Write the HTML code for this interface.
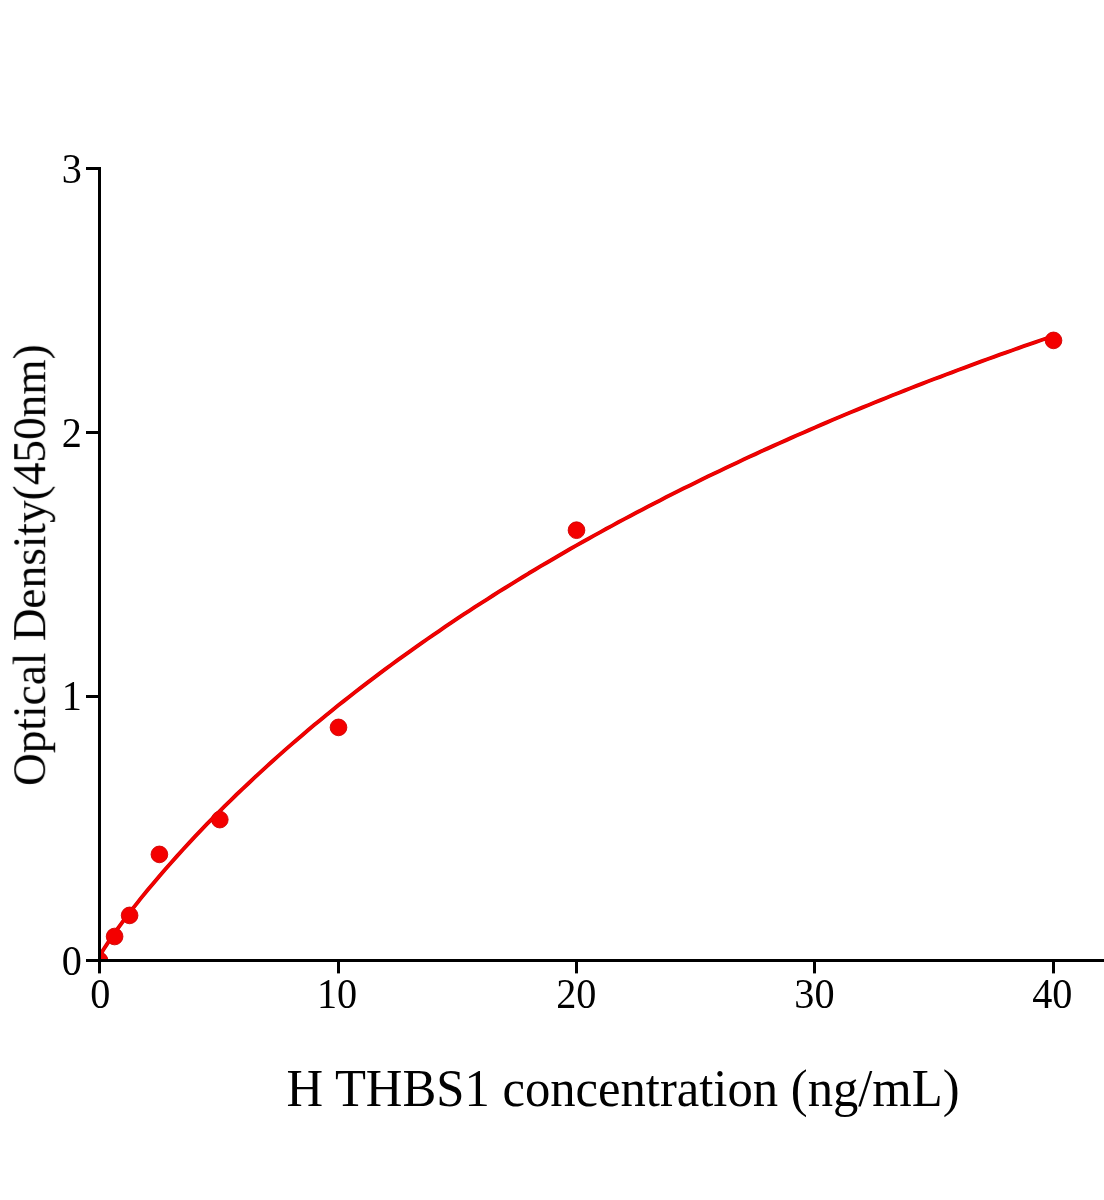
<!DOCTYPE html>
<html><head><meta charset="utf-8"><title>H THBS1 standard curve</title>
<style>
html,body{margin:0;padding:0;background:#fff;}
body{width:1104px;height:1200px;overflow:hidden;font-family:"Liberation Serif",serif;}
svg{display:block}
svg text{font-family:"Liberation Serif",serif;fill:#000;}
#txt{opacity:0.999}
</style></head><body>
<svg width="1104" height="1200" viewBox="0 0 1104 1200">
<rect width="1104" height="1200" fill="#fff"/>
<defs><clipPath id="plot"><rect x="101" y="0" width="1003" height="959"/></clipPath></defs>
<g clip-path="url(#plot)"><path d="M99.5 956.5 L101.9 952.1 L104.3 948.3 L106.7 944.6 L109.0 941.0 L111.4 937.5 L113.8 934.1 L116.2 930.7 L118.6 927.4 L121.0 924.1 L123.3 920.9 L125.7 917.7 L128.1 914.6 L130.5 911.5 L132.9 908.4 L135.3 905.4 L137.7 902.4 L140.0 899.4 L142.4 896.4 L144.8 893.5 L147.2 890.6 L153.2 883.4 L159.1 876.4 L165.1 869.5 L171.1 862.7 L177.0 856.1 L183.0 849.5 L188.9 843.1 L194.9 836.7 L200.9 830.4 L206.8 824.2 L212.8 818.1 L218.8 812.1 L224.7 806.2 L230.7 800.3 L236.6 794.5 L242.6 788.8 L248.6 783.2 L254.5 777.6 L260.5 772.1 L266.5 766.6 L272.4 761.2 L278.4 755.9 L284.3 750.6 L290.3 745.4 L296.3 740.3 L302.2 735.2 L308.2 730.1 L314.1 725.1 L320.1 720.2 L326.1 715.3 L332.0 710.4 L338.0 705.6 L344.0 700.9 L349.9 696.2 L355.9 691.5 L361.9 686.9 L367.8 682.4 L373.8 677.9 L379.7 673.4 L385.7 668.9 L391.7 664.5 L397.6 660.2 L403.6 655.9 L409.6 651.6 L415.5 647.4 L421.5 643.2 L427.4 639.0 L433.4 634.9 L439.4 630.8 L445.3 626.7 L451.3 622.7 L457.2 618.7 L463.2 614.7 L469.2 610.8 L475.1 606.9 L481.1 603.1 L487.1 599.3 L493.0 595.5 L499.0 591.7 L505.0 588.0 L510.9 584.3 L516.9 580.6 L522.8 577.0 L528.8 573.3 L534.8 569.8 L540.7 566.2 L546.7 562.7 L552.7 559.2 L558.6 555.7 L564.6 552.2 L570.5 548.8 L576.5 545.4 L582.5 542.0 L588.4 538.7 L594.4 535.4 L600.4 532.1 L606.3 528.8 L612.3 525.6 L618.2 522.3 L624.2 519.1 L630.2 516.0 L636.1 512.8 L642.1 509.7 L648.1 506.6 L654.0 503.5 L660.0 500.4 L665.9 497.3 L671.9 494.3 L677.9 491.3 L683.8 488.3 L689.8 485.4 L695.8 482.4 L701.7 479.5 L707.7 476.6 L713.6 473.7 L719.6 470.9 L725.6 468.0 L731.5 465.2 L737.5 462.4 L743.5 459.6 L749.4 456.8 L755.4 454.1 L761.3 451.3 L767.3 448.6 L773.3 445.9 L779.2 443.2 L785.2 440.6 L791.2 437.9 L797.1 435.3 L803.1 432.7 L809.0 430.1 L815.0 427.5 L821.0 424.9 L826.9 422.4 L832.9 419.8 L838.9 417.3 L844.8 414.8 L850.8 412.3 L856.7 409.9 L862.7 407.4 L868.7 405.0 L874.6 402.5 L880.6 400.1 L886.6 397.7 L892.5 395.3 L898.5 393.0 L904.4 390.6 L910.4 388.3 L916.4 385.9 L922.3 383.6 L928.3 381.3 L934.2 379.0 L940.2 376.8 L946.2 374.5 L952.1 372.3 L958.1 370.0 L964.1 367.8 L970.0 365.6 L976.0 363.4 L982.0 361.2 L987.9 359.0 L993.9 356.9 L999.8 354.7 L1005.8 352.6 L1011.8 350.5 L1017.7 348.3 L1023.7 346.2 L1029.7 344.2 L1035.6 342.1 L1041.6 340.0 L1047.5 338.0 L1053.5 335.9" fill="none" stroke="#cf0000" stroke-width="3.9" stroke-linejoin="round" stroke-linecap="butt"/>
<g fill="#f40000" stroke="#cf0000" stroke-width="0.9"><circle cx="99.5" cy="960.5" r="8.35"/><circle cx="114.6" cy="936.5" r="8.35"/><circle cx="129.6" cy="915.4" r="8.35"/><circle cx="159.4" cy="854.4" r="8.35"/><circle cx="219.8" cy="819.6" r="8.35"/><circle cx="338.5" cy="727.4" r="8.35"/><circle cx="576.5" cy="530.2" r="8.35"/><circle cx="1053.5" cy="340.4" r="8.35"/></g>
<path d="M99.5 956.5 L101.9 952.1 L104.3 948.3 L106.7 944.6 L109.0 941.0 L111.4 937.5 L113.8 934.1 L116.2 930.7 L118.6 927.4 L121.0 924.1 L123.3 920.9 L125.7 917.7 L128.1 914.6 L130.5 911.5 L132.9 908.4 L135.3 905.4 L137.7 902.4 L140.0 899.4 L142.4 896.4 L144.8 893.5 L147.2 890.6 L153.2 883.4 L159.1 876.4 L165.1 869.5 L171.1 862.7 L177.0 856.1 L183.0 849.5 L188.9 843.1 L194.9 836.7 L200.9 830.4 L206.8 824.2 L212.8 818.1 L218.8 812.1 L224.7 806.2 L230.7 800.3 L236.6 794.5 L242.6 788.8 L248.6 783.2 L254.5 777.6 L260.5 772.1 L266.5 766.6 L272.4 761.2 L278.4 755.9 L284.3 750.6 L290.3 745.4 L296.3 740.3 L302.2 735.2 L308.2 730.1 L314.1 725.1 L320.1 720.2 L326.1 715.3 L332.0 710.4 L338.0 705.6 L344.0 700.9 L349.9 696.2 L355.9 691.5 L361.9 686.9 L367.8 682.4 L373.8 677.9 L379.7 673.4 L385.7 668.9 L391.7 664.5 L397.6 660.2 L403.6 655.9 L409.6 651.6 L415.5 647.4 L421.5 643.2 L427.4 639.0 L433.4 634.9 L439.4 630.8 L445.3 626.7 L451.3 622.7 L457.2 618.7 L463.2 614.7 L469.2 610.8 L475.1 606.9 L481.1 603.1 L487.1 599.3 L493.0 595.5 L499.0 591.7 L505.0 588.0 L510.9 584.3 L516.9 580.6 L522.8 577.0 L528.8 573.3 L534.8 569.8 L540.7 566.2 L546.7 562.7 L552.7 559.2 L558.6 555.7 L564.6 552.2 L570.5 548.8 L576.5 545.4 L582.5 542.0 L588.4 538.7 L594.4 535.4 L600.4 532.1 L606.3 528.8 L612.3 525.6 L618.2 522.3 L624.2 519.1 L630.2 516.0 L636.1 512.8 L642.1 509.7 L648.1 506.6 L654.0 503.5 L660.0 500.4 L665.9 497.3 L671.9 494.3 L677.9 491.3 L683.8 488.3 L689.8 485.4 L695.8 482.4 L701.7 479.5 L707.7 476.6 L713.6 473.7 L719.6 470.9 L725.6 468.0 L731.5 465.2 L737.5 462.4 L743.5 459.6 L749.4 456.8 L755.4 454.1 L761.3 451.3 L767.3 448.6 L773.3 445.9 L779.2 443.2 L785.2 440.6 L791.2 437.9 L797.1 435.3 L803.1 432.7 L809.0 430.1 L815.0 427.5 L821.0 424.9 L826.9 422.4 L832.9 419.8 L838.9 417.3 L844.8 414.8 L850.8 412.3 L856.7 409.9 L862.7 407.4 L868.7 405.0 L874.6 402.5 L880.6 400.1 L886.6 397.7 L892.5 395.3 L898.5 393.0 L904.4 390.6 L910.4 388.3 L916.4 385.9 L922.3 383.6 L928.3 381.3 L934.2 379.0 L940.2 376.8 L946.2 374.5 L952.1 372.3 L958.1 370.0 L964.1 367.8 L970.0 365.6 L976.0 363.4 L982.0 361.2 L987.9 359.0 L993.9 356.9 L999.8 354.7 L1005.8 352.6 L1011.8 350.5 L1017.7 348.3 L1023.7 346.2 L1029.7 344.2 L1035.6 342.1 L1041.6 340.0 L1047.5 338.0 L1053.5 335.9" fill="none" stroke="#f40000" stroke-width="2.6" stroke-linejoin="round" stroke-linecap="butt"/></g>
<g fill="#000" shape-rendering="crispEdges">
<rect x="98" y="167" width="3" height="806.4"/>
<rect x="86" y="959" width="1018" height="3"/>
<rect x="98" y="959" width="3" height="14.4" shape-rendering="auto"/><rect x="337" y="959" width="3" height="14.4" shape-rendering="auto"/><rect x="575" y="959" width="3" height="14.4" shape-rendering="auto"/><rect x="813" y="959" width="3" height="14.4" shape-rendering="auto"/><rect x="1052" y="959" width="3" height="14.4" shape-rendering="auto"/>
<rect x="86" y="167" width="14" height="3"/><rect x="86" y="431" width="14" height="3"/><rect x="86" y="695" width="14" height="3"/><rect x="86" y="959" width="14" height="3"/>
</g>
<g id="txt"><g font-size="42.8"><text transform="translate(100.2 1008.0) scale(0.94 1)" text-anchor="middle">0</text><text transform="translate(337.1 1008.0) scale(0.94 1)" text-anchor="middle">10</text><text transform="translate(576.3 1008.0) scale(0.94 1)" text-anchor="middle">20</text><text transform="translate(814.4 1008.0) scale(0.94 1)" text-anchor="middle">30</text><text transform="translate(1052.3 1008.0) scale(0.94 1)" text-anchor="middle">40</text><text transform="translate(81.9 183.2) scale(0.94 1)" text-anchor="end">3</text><text transform="translate(81.9 446.7) scale(0.94 1)" text-anchor="end">2</text><text transform="translate(81.9 710.0) scale(0.94 1)" text-anchor="end">1</text><text transform="translate(81.9 974.5) scale(0.94 1)" text-anchor="end">0</text></g>
<text x="286.6" y="1106" font-size="53.5" textLength="673" lengthAdjust="spacingAndGlyphs">H THBS1 concentration (ng/mL)</text>
<text transform="translate(45.2 785.9) rotate(-90)" font-size="46" textLength="441.6" lengthAdjust="spacingAndGlyphs">Optical Density(450nm)</text></g>
</svg>
</body></html>
